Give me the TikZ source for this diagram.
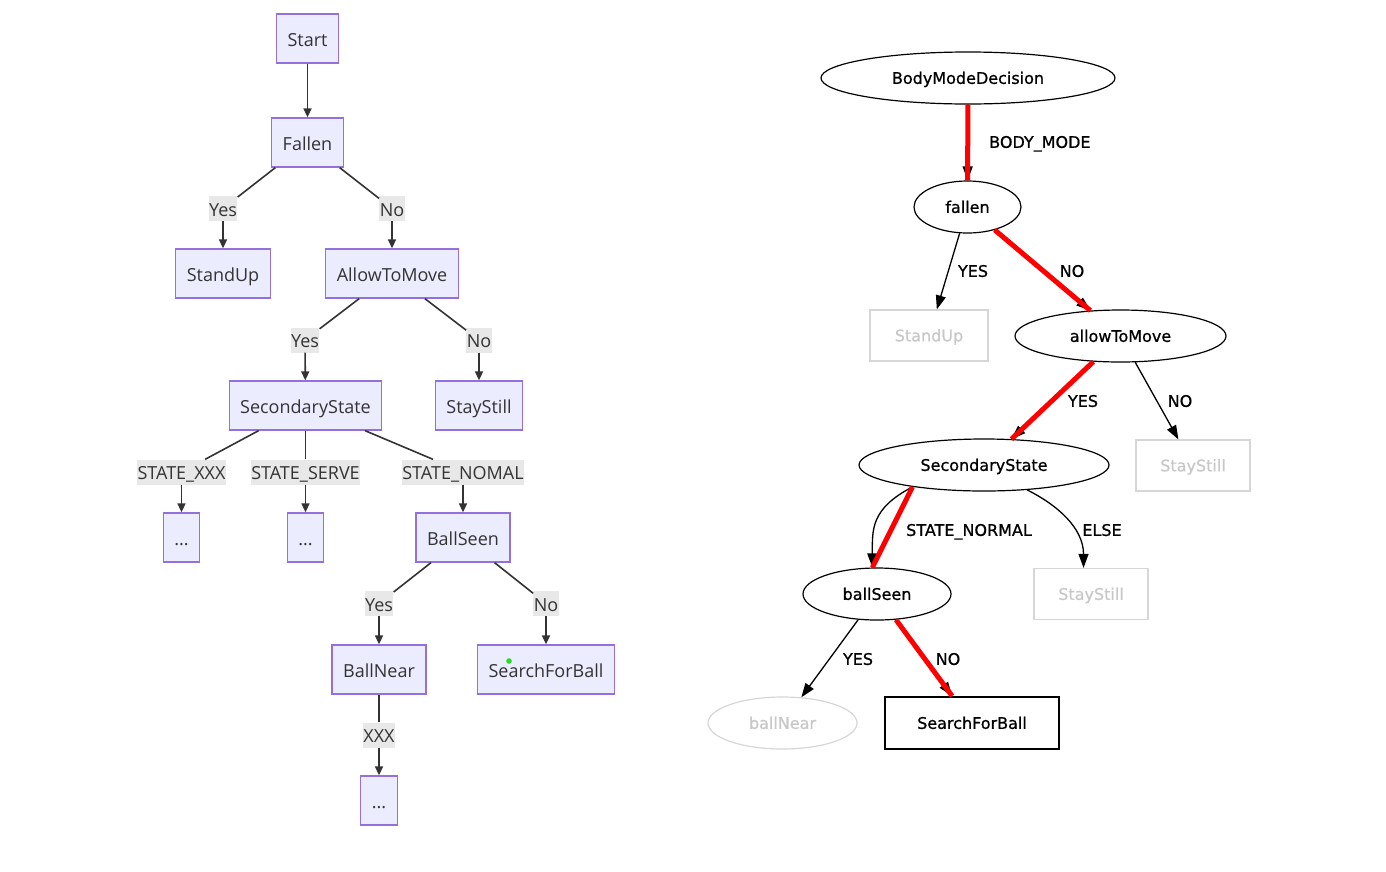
\documentclass[tikz,border=0pt]{standalone}
\usepackage{fontspec}
\setmainfont{Open Sans}
\newfontfamily\dvfont[FakeBold=0.8]{DejaVu Sans}
\usetikzlibrary{shapes.geometric,arrows.meta,calc}
\definecolor{mfill}{HTML}{ECECFF}
\definecolor{mborder}{HTML}{9370DB}
\definecolor{mlab}{HTML}{E8E8E8}
\definecolor{mtext}{HTML}{333333}
\definecolor{gvgray}{HTML}{D6D6D6}
\definecolor{gvtext}{HTML}{C8C8C8}
\definecolor{gdot}{HTML}{22DD22}
\begin{document}
\begin{tikzpicture}[x=1pt,y=-1pt,
  mbox/.style={rectangle, draw=mborder, fill=mfill, line width=1.3pt, minimum height=49pt,
    inner xsep=11pt, inner ysep=0pt, text height=15.5pt, text depth=0pt, text=mtext,
    font=\fontsize{18}{20}\selectfont},
  mlabel/.style={rectangle, fill=mlab, minimum height=25pt, inner xsep=0.5pt, inner ysep=0pt,
    text height=15.5pt, text depth=0pt, text=mtext, font=\fontsize{18}{20}\selectfont},
  mline/.style={draw=mtext, line width=1.6pt},
  marr/.style={mline, -{Triangle[length=9pt,width=8pt]}},
  gvell/.style={ellipse, draw=black, line width=1.2pt, inner sep=0pt, minimum height=52pt,
    text height=11.7pt, text depth=0pt, font=\dvfont\fontsize{16}{18}\selectfont},
  gvgrayell/.style={gvell, draw=gvgray, text=gvtext},
  gvbox/.style={rectangle, draw=gvgray, line width=1.2pt, inner sep=0pt, minimum height=51pt,
    text height=11.7pt, text depth=0pt, text=gvtext, font=\dvfont\fontsize{16}{18}\selectfont},
  gvarr/.style={draw=black, line width=1.3pt, -{Triangle[length=14pt,width=10pt]}},
  gvred/.style={draw=red, line width=5pt},
  gvlab/.style={inner sep=0pt, text height=11.7pt, text depth=0pt,
    font=\dvfont\fontsize{16}{18}\selectfont},
]
\useasboundingbox (0,0) rectangle (1386,871);

% ---------------- Left: mermaid flowchart ----------------
\node[mbox] (Start) at (307.5,38.5) {Start};
\node[mbox] (Fallen) at (307.5,142.5) {Fallen};
\node[mbox] (StandUp) at (223,273.5) {StandUp};
\node[mbox] (Allow) at (392,273.5) {AllowToMove};
\node[mbox] (Sec) at (305.5,405.5) {SecondaryState};
\node[mbox] (Stay) at (479,405.5) {StayStill};
\node[mbox] (D1) at (181.5,537.5) {...};
\node[mbox] (D2) at (305.5,537.5) {...};
\node[mbox] (Seen) at (463,537.5) {BallSeen};
\node[mbox] (Near) at (379,669.5) {BallNear};
\node[mbox] (Search) at (546,669.5) {SearchForBall};
\node[mbox] (D3) at (379,800.5) {...};

\node[mlabel] (l1) at (223,208.5) {Yes};
\node[mlabel] (l2) at (392,208.5) {No};
\node[mlabel] (l3) at (305,340) {Yes};
\node[mlabel] (l4) at (479,340) {No};
\node[mlabel] (l5) at (181.5,472) {STATE\_XXX};
\node[mlabel] (l6) at (305.5,472) {STATE\_SERVE};
\node[mlabel] (l7) at (463,472) {STATE\_NOMAL};
\node[mlabel] (l8) at (379,603.5) {Yes};
\node[mlabel] (l9) at (546,603.5) {No};
\node[mlabel] (l10) at (379,735) {XXX};

\draw[marr] (Start) -- (Fallen);
\draw[mline] (Fallen) -- (l1); \draw[marr] (l1) -- (StandUp);
\draw[mline] (Fallen) -- (l2); \draw[marr] (l2) -- (Allow);
\draw[mline] (Allow) -- (l3); \draw[marr] (l3) -- (Sec);
\draw[mline] (Allow) -- (l4); \draw[marr] (l4) -- (Stay);
\draw[mline] (Sec) -- (l5); \draw[marr] (l5) -- (D1);
\draw[mline] (Sec) -- (l6); \draw[marr] (l6) -- (D2);
\draw[mline] (Sec) -- (l7); \draw[marr] (l7) -- (Seen);
\draw[mline] (Seen) -- (l8); \draw[marr] (l8) -- (Near);
\draw[mline] (Seen) -- (l9); \draw[marr] (l9) -- (Search);
\draw[mline] (Near) -- (l10); \draw[marr] (l10) -- (D3);

\fill[gdot] (509,661) circle (2.8pt);

% ---------------- Right: graphviz tree ----------------
\node[gvell, minimum width=294pt] (BMD) at (968,78) {BodyModeDecision};
\node[gvell, minimum width=107pt] (fallen) at (967.5,207) {fallen};
\node[gvbox, minimum width=118pt] (gStandUp) at (929,335.5) {StandUp};
\node[gvell, minimum width=211pt] (allow) at (1120.5,336) {allowToMove};
\node[gvell, minimum width=250pt] (sec) at (984,465) {SecondaryState};
\node[gvbox, minimum width=114pt] (gStay1) at (1193,465.5) {StayStill};
\node[gvell, minimum width=148pt] (seen) at (877,594) {ballSeen};
\node[gvbox, minimum width=114pt] (gStay2) at (1091,594) {StayStill};
\node[gvgrayell, minimum width=149pt] (near) at (782.5,723) {ballNear};
\node[gvbox, draw=black, line width=2pt, text=black, minimum width=174pt, minimum height=52pt] (gSearch) at (972,723) {SearchForBall};

\draw[gvarr] (BMD) -- (fallen);
\draw[gvred] (BMD) -- (fallen);
\draw[gvarr] (fallen) -- (gStandUp);
\draw[gvarr] (fallen) -- (allow);
\draw[gvred] (fallen) -- (allow);
\draw[gvarr] (allow) -- (sec);
\draw[gvred] (allow) -- (sec);
\draw[gvarr] (allow) -- (gStay1);
\draw[gvarr] (sec.197) .. controls +(-42,22) and +(0,-38) .. (seen.100);
\draw[gvred] (sec.197) -- (seen.100);
\draw[gvarr] (sec.330) .. controls +(30,15) and +(0,-40) .. (gStay2.106);
\draw[gvarr] (seen) -- (near);
\draw[gvarr] (seen) -- (gSearch);
\draw[gvred] (seen) -- (gSearch);

\node[gvlab, anchor=west] (tBM) at (989,142) {BODY\_MODE};
\node[gvlab] (tY1) at (973,271) {YES};
\node[gvlab] (tN1) at (1072,271) {NO};
\node[gvlab] (tY2) at (1083,401) {YES};
\node[gvlab] (tN2) at (1180,401) {NO};
\node[gvlab] (tSN) at (969,530) {STATE\_NORMAL};
\node[gvlab] (tEL) at (1102,530) {ELSE};
\node[gvlab] (tY3) at (858,659) {YES};
\node[gvlab] (tN3) at (948,659) {NO};
\end{tikzpicture}
\end{document}
